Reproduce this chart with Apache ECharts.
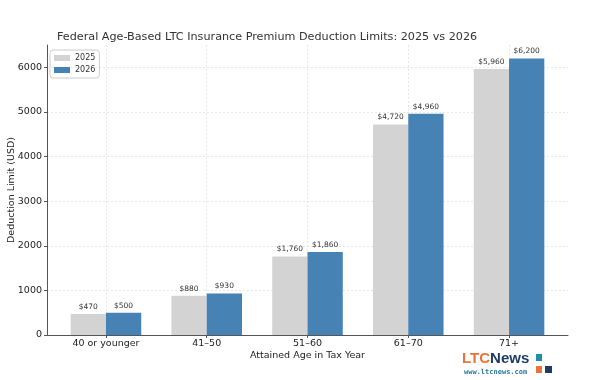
<!DOCTYPE html>
<html><head><meta charset="utf-8">
<script src="https://cdn.jsdelivr.net/npm/echarts@6/dist/echarts.min.js"></script>
<style>html,body{margin:0;padding:0;background:#fff}#c{width:600px;height:380px}</style>
</head><body><div id="c"></div>
<script>
const categories = ['40 or younger', '41–50', '51–60', '61–70', '71+'];
const values2025 = [470, 880, 1760, 4720, 5960];
const values2026 = [500, 930, 1860, 4960, 6200];
const yTicks = [0, 1000, 2000, 3000, 4000, 5000, 6000];
const seriesNames = ['2025', '2026'];
const colors = ['#d3d3d3', '#4682b4'];

const FONT = 'DejaVu Sans';
const BAR = 0.35;
const chart = echarts.init(document.getElementById('c'));
const idx = categories.map((_, i) => i);
const fmt = v => '$' + v.toLocaleString('en-US');

function makeSeries(k, vals) {
  const off = (k === 0 ? -0.5 : 0.5) * BAR;
  return {
    name: seriesNames[k], type: 'custom', data: vals.map((v, i) => [i, v]),
    itemStyle: {color: colors[k]},
    encode: {x: 0, y: 1},
    renderItem: (params, api) => {
      const x = api.value(0), y = api.value(1);
      const p0 = api.coord([x + off - BAR / 2, y]);
      const p1 = api.coord([x + off + BAR / 2, 0]);
      return {type: 'group', children: [
        {type: 'rect', shape: {x: p0[0], y: p0[1], width: p1[0] - p0[0], height: p1[1] - p0[1]},
          style: {fill: colors[k]}},
        {type: 'text', style: {text: fmt(y), x: (p0[0] + p1[0]) / 2, y: p0[1] - 3, align: 'center',
          verticalAlign: 'bottom', fontFamily: FONT, fontSize: 7.5, fill: '#333'}}
      ]};
    },
    markLine: k === 0 ? {silent: true, symbol: 'none', label: {show: false}, z: 0,
      lineStyle: {color: '#e3e3e3', type: [2, 2], width: 0.8},
      data: idx.map(i => ({xAxis: i}))} : undefined
  };
}

chart.setOption({
  animation: false,
  title: {text: 'Federal Age-Based LTC Insurance Premium Deduction Limits: 2025 vs 2026', left: 52, top: 27,
    textStyle: {fontFamily: FONT, fontSize: 11.2, fontWeight: 'normal', color: '#333'}},
  legend: {orient: 'vertical', left: 50, top: 50, itemWidth: 16, itemHeight: 6, itemGap: 4, icon: 'rect',
    padding: [4, 4], borderColor: '#ccc', borderWidth: 1, borderRadius: 3,
    textStyle: {fontFamily: FONT, fontSize: 8, color: '#333'}, data: seriesNames},
  grid: {left: 47, right: 32, top: 45, bottom: 45, containLabel: false, outerBoundsMode: 'none'},
  xAxis: {type: 'value', min: -0.585, max: 4.585,
    name: 'Attained Age in Tax Year', nameLocation: 'middle', nameGap: 16, nameMoveOverlap: false,
    nameTextStyle: {fontFamily: FONT, fontSize: 9.5, color: '#222'},
    axisLine: {show: true, onZero: false, lineStyle: {color: '#555', width: 1}},
    axisTick: {show: true, customValues: idx, length: 3, lineStyle: {color: '#555'}},
    axisLabel: {customValues: idx, formatter: v => categories[Math.round(v)], fontFamily: FONT, fontSize: 9.5, color: '#222', margin: 4},
    splitLine: {show: false}},
  yAxis: {type: 'value', min: 0, max: 6500, interval: 1000,
    name: 'Deduction Limit (USD)', nameLocation: 'middle', nameGap: 30, nameRotate: 90, nameMoveOverlap: false,
    nameTextStyle: {fontFamily: FONT, fontSize: 9.5, color: '#222'},
    axisLine: {show: true, onZero: false, lineStyle: {color: '#555', width: 1}},
    axisTick: {show: true, length: 3, lineStyle: {color: '#555'}},
    axisLabel: {fontFamily: FONT, fontSize: 9.5, color: '#222', margin: 5, showMaxLabel: false,
      formatter: v => yTicks.includes(v) ? String(v) : ''},
    splitLine: {show: true, showMaxLine: false, lineStyle: {color: '#e3e3e3', type: [2, 2], width: 0.8}}},
  series: [makeSeries(0, values2025), makeSeries(1, values2026)],
  graphic: [
    {type: 'text', left: 462, top: 351, style: {text: '{a|LTC}{b|News}', rich: {
      a: {fontFamily: 'Liberation Sans', fontWeight: 'bold', fontSize: 15, fill: '#e8743b'},
      b: {fontFamily: 'Liberation Sans', fontWeight: 'bold', fontSize: 15, fill: '#1f3b63'}}}},
    {type: 'text', left: 464, top: 369, style: {text: 'www.ltcnews.com', fontFamily: 'DejaVu Sans Mono', fontSize: 7, fill: '#2a7a9a', fontWeight: 'bold'}},
    {type: 'rect', shape: {x: 536, y: 354, width: 6, height: 7}, style: {fill: '#1a8fa6'}},
    {type: 'rect', shape: {x: 536, y: 366, width: 6, height: 7}, style: {fill: '#e8743b'}},
    {type: 'rect', shape: {x: 545, y: 366, width: 7, height: 7}, style: {fill: '#1f3b63'}}
  ]
});
</script></body></html>
